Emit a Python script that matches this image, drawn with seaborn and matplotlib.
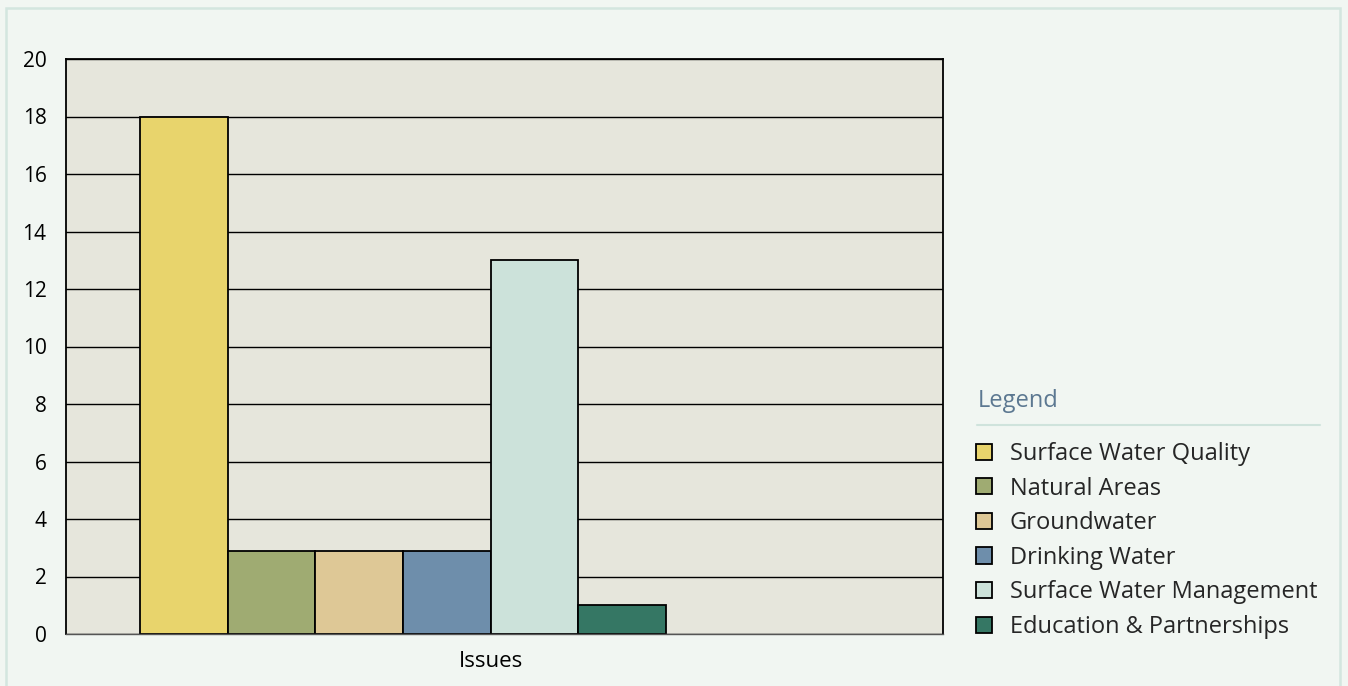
import matplotlib
matplotlib.use("Agg")
import matplotlib.pyplot as plt
import matplotlib.patches as mpatches
from matplotlib.lines import Line2D
import pandas as pd
import seaborn as sns

# chart values
categories = ["Surface Water Quality", "Natural Areas", "Groundwater",
              "Drinking Water", "Surface Water Management", "Education & Partnerships"]
counts = [18, 2.9, 2.9, 2.9, 13, 1]
group_label = "Issues"
colors = ["#e8d46c", "#9fab72", "#dec896", "#6e8eab", "#cce2da", "#357764"]
yticks = list(range(0, 21, 2))

bg = "#f1f6f2"
plot_bg = "#e6e6dc"

sns.set_style("white")
plt.rcParams["font.family"] = ["Open Sans", "DejaVu Sans"]

df = pd.DataFrame({"group": [group_label] * len(categories),
                   "category": categories,
                   "count": counts})

fig = plt.figure(figsize=(13.48, 6.86), dpi=100, facecolor=bg)

# outer panel border
top = (686 - 8) / 686
fig.patches.append(mpatches.Rectangle((6 / 1348, -0.01), 1334 / 1348, top + 0.01,
                                      transform=fig.transFigure, facecolor=bg,
                                      edgecolor="#d3e6df", linewidth=1.8, zorder=-5))

ax = fig.add_axes([66 / 1348, 52 / 686, 877 / 1348, 575 / 686])
ax.set_facecolor(plot_bg)

sns.barplot(data=df, x="group", y="count", hue="category", hue_order=categories,
            palette=colors, saturation=1, edgecolor="black", linewidth=1.3,
            ax=ax, legend=True)

ax.set_ylim(0, 20)
ax.set_yticks(yticks)
ax.set_xlim(-0.5125, 0.821)
ax.set_xticks([0.8 / 6])
ax.set_xticklabels([group_label])
ax.set_xlabel("")
ax.set_ylabel("")
ax.set_axisbelow(True)
ax.yaxis.grid(True, color="black", linewidth=1.0)
ax.tick_params(axis="y", length=0, pad=14, labelsize=15, labelcolor="black")
ax.tick_params(axis="x", length=0, pad=12, labelsize=16, labelcolor="black")

for side in ["left", "top", "right"]:
    ax.spines[side].set_color("black")
    ax.spines[side].set_linewidth(1.3)
ax.spines["bottom"].set_color("#555555")
ax.spines["bottom"].set_linewidth(1.0)

handles, labels = ax.get_legend_handles_labels()
ax.get_legend().remove()
fig.legend(handles, labels, loc="upper left", bbox_to_anchor=(976 / 1348, (686 - 442) / 686),
           frameon=False, fontsize=17, borderpad=0, borderaxespad=0,
           handlelength=0.68, handleheight=0.68, handletextpad=0.75, labelspacing=0.45)

fig.text(978 / 1348, (686 - 401) / 686, "Legend", color="#5c7891", fontsize=17,
         ha="left", va="center")
fig.lines.append(Line2D([977 / 1348, 1320 / 1348], [(686 - 425) / 686] * 2,
                        transform=fig.transFigure, color="#cfe3dc", linewidth=1.5))

fig.savefig("out.png", dpi=100, facecolor=bg)
